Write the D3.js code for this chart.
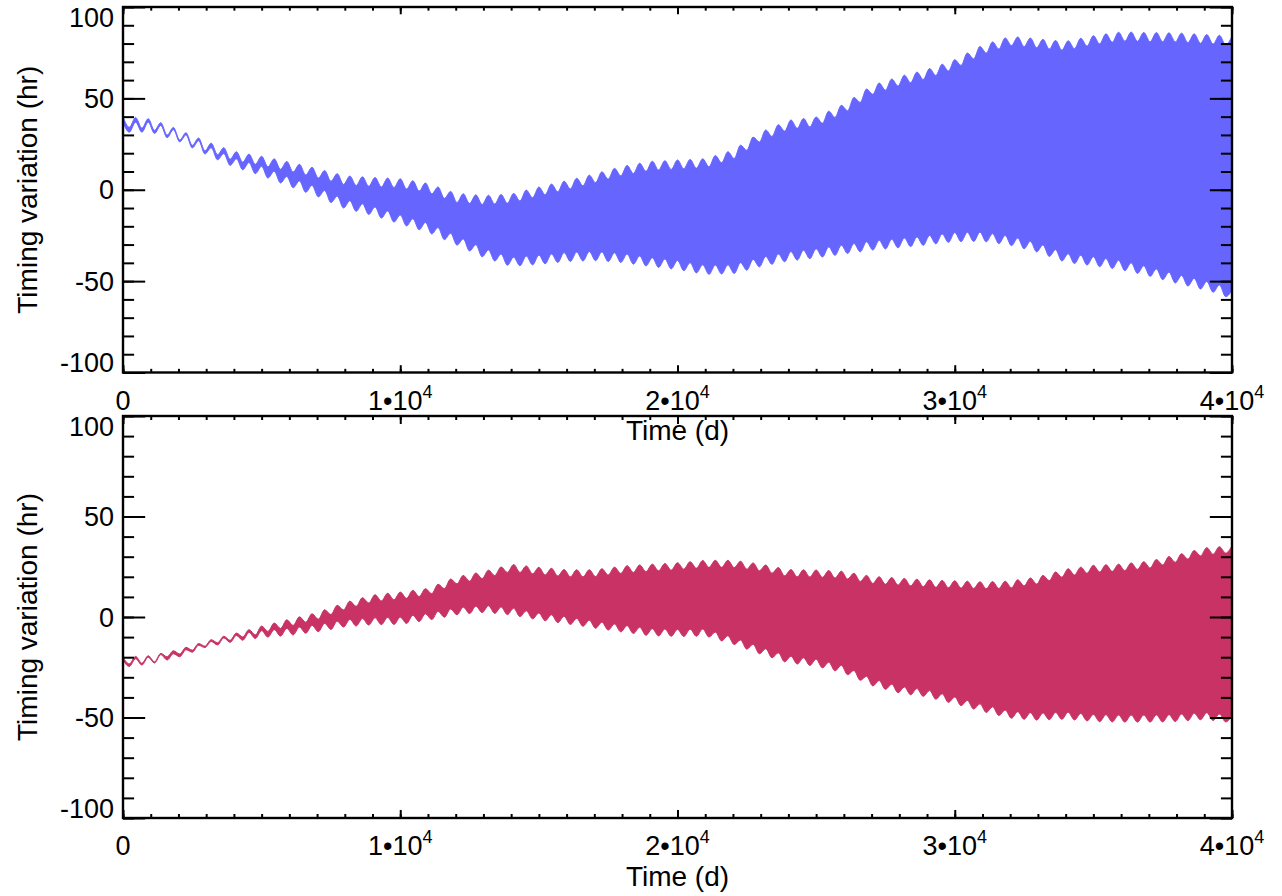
<!DOCTYPE html>
<html>
<head>
<meta charset="utf-8">
<script src="https://cdn.jsdelivr.net/npm/d3@7"></script>
<style>
  html, body { margin: 0; padding: 0; background: #ffffff; }
  svg { display: block; }
  text { font-family: "Liberation Sans", Arial, Helvetica, sans-serif; fill: #000; }
</style>
</head>
<body>
<svg id="chart" width="1282" height="896"></svg>
<script>
// ---------------- data ----------------
const timeMax = 40000;              // days
const sampleCount = 177;            // samples along the time axis
const timeDays = d3.range(sampleCount).map(i => i * timeMax / (sampleCount - 1));

// Panel 1 (blue): upper and lower edge of the TTV band (hours)
const topUpper = [40,34.2,39.5,33.7,38.9,32.5,36.7,29.9,34.1,27.2,31.2,24.3,28.3,21.3,25.5,19.2,23.0,16.7,20.8,15.1,
19.5,13.9,18.3,12.6,16.9,11.2,15.5,9.7,13.9,8.1,12.3,6.4,10.5,4.7,8.8,2.9,7.5,2.3,7.1,1.9,
6.7,1.5,6.4,1.2,6,0.4,4.9,-0.7,3.7,-2.2,1.5,-4.7,-0.9,-7.0,-2.2,-7.5,-2.8,-8.1,-3.0,-7.8,
-2.6,-7.4,-2.0,-6.1,-0.2,-4.4,1.5,-2.7,3.1,-1.1,4.7,0.5,6.3,2.2,8.0,3.9,9.8,5.8,11.7,7.6,
13.3,8.9,14.5,10.1,15.6,10.8,15.9,11.1,16.3,11.5,16.6,11.8,16.9,12.6,18.7,14.8,20.8,17.1,24.4,21.6,
28.8,26.1,32.7,29.2,35.6,32.1,38.2,33.6,39.0,34.4,39.8,36.4,43.0,39.6,46.2,43.2,50.5,47.8,55.1,52.2,
58.4,54.5,60.6,56.8,62.7,58.6,64.4,60.3,66.3,62.5,68.7,65.0,71.2,68.0,74.8,71.6,78.4,74.8,80.9,77.0,
83.1,78.9,83.6,78.3,83.0,77.7,82.3,77.0,81.7,76.4,81.5,77.2,82.9,78.6,84.3,79.8,85.3,80.7,86.2,81.3,
86.3,81.2,86.1,81.0,86.0,81.0,85.9,80.9,85.7,80.5,85.3,80.1,84.9,79.7,84.5,79.2,84.0];
const topLower = [37,31.5,37,31.5,37,30.8,35.2,28.5,32.9,26.2,30,22.9,26.8,19.6,23.0,16.4,19.8,13.3,16.9,10.9,
14.9,8.8,12.8,6.4,10.1,3.7,7.3,1.1,4.8,-1.4,2.4,-3.9,-0.4,-7.0,-3.5,-10.0,-6.0,-11.8,-7.7,-13.5,
-9.4,-15.5,-11.6,-17.7,-13.8,-19.8,-15.9,-21.9,-17.9,-24.2,-20.7,-27.3,-23.8,-30.3,-26.9,-33.5,-30.1,-36.7,-32.9,-39.0,
-35.2,-41.3,-36.9,-41.6,-36.3,-41.1,-35.8,-40.5,-35.1,-39.8,-34.4,-39.2,-34.1,-39.0,-33.8,-38.8,-34.0,-39.3,-34.5,-39.8,
-35.2,-40.7,-36.2,-41.7,-37.2,-42.5,-37.9,-43.3,-38.7,-44.3,-39.9,-45.5,-41.1,-46.3,-41.2,-46.1,-41.1,-45.8,-39.9,-44.0,
-38.1,-42.2,-36.5,-40.8,-35.1,-39.4,-33.8,-38.5,-33.1,-37.7,-32.3,-36.8,-31.3,-35.9,-30.4,-34.9,-29.4,-34.0,-28.5,-33.0,
-27.7,-32.4,-27.1,-31.8,-26.4,-31.1,-25.8,-30.4,-25.0,-29.6,-24.2,-28.8,-23.4,-28.4,-23.3,-28.3,-23.2,-28.5,-24.0,-29.5,
-25.0,-30.6,-26.4,-32.3,-28.2,-34.0,-30.2,-36.5,-32.8,-39.0,-35.0,-40.4,-35.8,-41.2,-36.6,-42.1,-37.6,-43.1,-38.6,-44.3,
-40.0,-45.8,-41.6,-47.4,-43.3,-49.2,-45.1,-51.0,-46.9,-52.7,-48.5,-54.3,-50.2,-56.1,-52.1,-58.5,-55.0];

// Panel 2 (crimson)
const bottomUpper = [-20,-23.3,-19.6,-23.0,-19.3,-22.3,-18.1,-19.8,-16.8,-18.4,-15.1,-16.5,-13.2,-14.5,-11.3,-12.8,-9.6,-11.6,-8.0,-9.9,
-6.3,-8.9,-4.5,-7.2,-3.0,-5.7,-1.4,-4.2,0.1,-2.6,1.6,-1.1,3.6,1.2,5.8,3.5,7.9,5.3,9.6,7.0,
11.1,8.0,11.8,8.6,12.4,9.3,13.3,10.2,14.1,11.6,16.3,14.1,18.9,16.5,20.7,17.8,21.9,19.1,23.3,20.6,
24.9,22.2,26.1,22.2,25.4,21.5,24.7,20.9,24.2,20.4,23.6,20.0,23.5,20.0,23.5,20.1,24.0,20.9,24.8,21.7,
25.5,22.2,25.9,22.6,26.3,23.0,26.6,23.3,27.0,23.8,27.5,24.3,28.1,24.7,28.2,24.7,28.2,24.6,27.7,23.8,
26.9,23.0,25.9,21.8,24.6,20.5,23.6,20.0,23.5,19.9,23.4,19.7,23.1,19.4,22.8,18.9,21.8,17.7,20.7,16.7,
20.0,16.3,19.6,15.9,19.2,15.5,18.8,15.1,18.5,14.8,18.2,14.6,18.0,14.4,17.8,14.2,17.5,14.1,17.6,14.2,
17.8,14.5,18.5,15.5,19.4,16.4,20.7,18.1,22.4,19.8,24.0,20.9,24.8,21.8,25.7,22.4,26.0,22.7,26.3,23.1,
26.9,23.7,27.5,24.4,28.6,25.9,30.1,27.2,31.5,28.8,33.1,30.4,34.5,31.2,35.0,31.8,35.5];
const bottomLower = [-21.5,-24.6,-20.8,-23.9,-20.0,-22.9,-18.7,-21.4,-18.3,-19.8,-16.3,-17.5,-14.1,-15.2,-12.2,-13.9,-10.4,-12.6,-9.2,-11.6,
-7.7,-10.7,-6.8,-10.0,-6.3,-9.5,-5.7,-8.9,-5.0,-8.1,-4.2,-7.3,-3.2,-6.2,-2.1,-5.0,-1.2,-4.5,-0.8,-4.0,
-0.4,-3.8,-0.2,-3.7,-0.1,-3.2,0.8,-2.3,1.6,-1.3,2.8,-0.1,4.0,1.1,4.9,1.7,5.4,2.2,5.6,1.8,
5.0,1.2,4.3,0.2,3.1,-0.9,2.0,-1.9,1.1,-2.8,0.3,-3.7,-0.7,-4.6,-1.6,-5.6,-2.6,-6.5,-3.5,-7.4,
-4.3,-8.2,-5.1,-9.1,-5.8,-9.4,-6.0,-9.6,-6.2,-9.7,-6.1,-9.6,-6.0,-10.0,-7.5,-11.9,-9.3,-13.7,-11.4,-16.0,
-13.6,-18.3,-15.8,-20.3,-17.8,-22.3,-19.5,-23.4,-20.3,-24.1,-21.0,-25.3,-22.5,-26.8,-24.0,-28.7,-26.6,-31.5,-29.5,-34.3,
-31.6,-36.0,-33.4,-37.7,-34.8,-38.7,-35.6,-39.5,-36.6,-40.9,-38.2,-42.5,-39.8,-44.1,-41.5,-45.8,-43.2,-47.5,-44.7,-49.0,
-46.3,-50.4,-47.1,-50.9,-47.6,-51.3,-47.7,-51.1,-47.5,-50.9,-47.4,-51.2,-48.0,-51.7,-48.5,-52.1,-48.6,-52.2,-48.8,-52.3,
-48.8,-52.3,-48.8,-52.3,-48.7,-52.2,-48.6,-52.0,-48.3,-51.6,-47.9,-51.1,-47.6,-51.5,-48.3,-52.2,-49.0];

// axis tick values and labels
const yMajorTicks = [-100, -50, 0, 50, 100];
const yTickLabels = ["-100", "-50", "0", "50", "100"];
const yMinorTicks = d3.range(-100, 101, 10);
const xMajorTicks = [0, 10000, 20000, 30000, 40000];
const xTickMantissa = ["0", "1", "2", "3", "4"];
const xTickExponent = [null, "4", "4", "4", "4"];
const xMinorTicks = d3.range(0, 40001, 1000);
const xTitle = "Time (d)";
const yTitle = "Timing variation (hr)";

// ---------------- layout ----------------
const svg = d3.select("#chart");
const left = 123, right = 1232;
const panels = [
  { top: 7, bottom: 372.5, upper: topUpper, lower: topLower, color: "#6666ff", labelBase: 410, titleBase: 440 },
  { top: 416, bottom: 818, upper: bottomUpper, lower: bottomLower, color: "#c83264", labelBase: 855, titleBase: 886 }
];

const x = d3.scaleLinear().domain([0, timeMax]).range([left, right]);
const fontSize = 27;
const capH = 19.4;

panels.forEach((p, pi) => {
  const y = d3.scaleLinear().domain([-100, 100]).range([p.bottom, p.top]);
  const g = svg.append("g");
  const clipId = "clip" + pi;
  svg.append("clipPath").attr("id", clipId).append("rect")
    .attr("x", left).attr("y", p.top).attr("width", right - left).attr("height", p.bottom - p.top);

  const rows = timeDays.map((t, i) => ({ t, hi: p.upper[i], lo: p.lower[i] }));
  const area = d3.area().x(d => x(d.t)).y0(d => y(d.lo)).y1(d => y(d.hi)).curve(d3.curveMonotoneX);
  g.append("path").datum(rows).attr("d", area)
    .attr("fill", p.color).attr("stroke", p.color).attr("stroke-width", 1)
    .attr("clip-path", `url(#${clipId})`);

  const h = p.bottom - p.top;
  const xMajLen = 0.02 * h, yMajLen = 0.02 * (right - left);

  function styleAxis(sel) {
    sel.select(".domain").remove();
    sel.selectAll("line").attr("stroke", "#000").attr("stroke-width", 2);
    sel.selectAll("text").remove();
  }
  // bottom & top x ticks (pointing inward)
  g.append("g").attr("transform", `translate(0,${p.bottom})`)
    .call(d3.axisBottom(x).tickValues(xMinorTicks).tickSize(-xMajLen / 2)).call(styleAxis);
  g.append("g").attr("transform", `translate(0,${p.bottom})`)
    .call(d3.axisBottom(x).tickValues(xMajorTicks).tickSize(-xMajLen)).call(styleAxis);
  g.append("g").attr("transform", `translate(0,${p.top})`)
    .call(d3.axisTop(x).tickValues(xMinorTicks).tickSize(-xMajLen / 2)).call(styleAxis);
  g.append("g").attr("transform", `translate(0,${p.top})`)
    .call(d3.axisTop(x).tickValues(xMajorTicks).tickSize(-xMajLen)).call(styleAxis);
  // left & right y ticks
  g.append("g").attr("transform", `translate(${left},0)`)
    .call(d3.axisLeft(y).tickValues(yMinorTicks).tickSize(-yMajLen / 2)).call(styleAxis);
  g.append("g").attr("transform", `translate(${left},0)`)
    .call(d3.axisLeft(y).tickValues(yMajorTicks).tickSize(-yMajLen)).call(styleAxis);
  g.append("g").attr("transform", `translate(${right},0)`)
    .call(d3.axisRight(y).tickValues(yMinorTicks).tickSize(-yMajLen / 2)).call(styleAxis);
  g.append("g").attr("transform", `translate(${right},0)`)
    .call(d3.axisRight(y).tickValues(yMajorTicks).tickSize(-yMajLen)).call(styleAxis);

  // frame
  g.append("rect").attr("x", left).attr("y", p.top).attr("width", right - left).attr("height", h)
    .attr("fill", "none").attr("stroke", "#000").attr("stroke-width", 2.4);

  // y tick labels
  yMajorTicks.forEach((v, i) => {
    let base;
    if (v === 100) base = y(v) + capH + 0.5;
    else if (v === -100) base = y(v) - 0.5;
    else base = y(v) + capH / 2;
    g.append("text").attr("x", 114).attr("y", base).attr("text-anchor", "end")
      .attr("font-size", fontSize).text(yTickLabels[i]);
  });

  // x tick labels
  xMajorTicks.forEach((v, i) => {
    const t = g.append("text").attr("x", x(v)).attr("y", p.labelBase).attr("text-anchor", "middle")
      .attr("font-size", fontSize);
    if (xTickExponent[i] === null) {
      t.text(xTickMantissa[i]);
    } else {
      t.append("tspan").text(xTickMantissa[i] + "\u202210");
      t.append("tspan").attr("font-size", 18).attr("dy", -12).text(xTickExponent[i]);
    }
  });

  // titles
  g.append("text").attr("x", (left + right) / 2).attr("y", p.titleBase).attr("text-anchor", "middle")
    .attr("font-size", 28).text(xTitle);
  g.append("text").attr("transform", `translate(37,${(p.top + p.bottom) / 2}) rotate(-90)`)
    .attr("text-anchor", "middle").attr("font-size", 28).text(yTitle);
});
</script>
</body>
</html>
